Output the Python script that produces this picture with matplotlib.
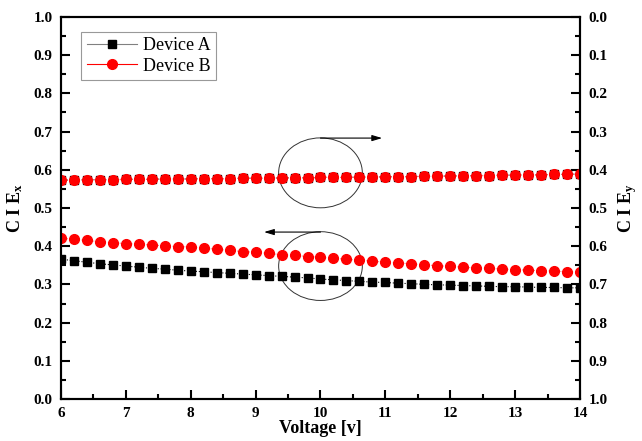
import numpy as np
import matplotlib.pyplot as plt
from matplotlib.patches import Ellipse
from matplotlib.lines import Line2D
from matplotlib.ticker import MultipleLocator

# ── Data ──────────────────────────────────────────────────────────────
voltage = np.round(np.arange(6.0, 14.01, 0.2), 1)

ciex_a = [0.366, 0.362, 0.358, 0.354, 0.351, 0.348, 0.345, 0.342, 0.340, 0.337,
          0.335, 0.333, 0.331, 0.329, 0.327, 0.325, 0.323, 0.321, 0.319, 0.317,
          0.314, 0.312, 0.310, 0.308, 0.306, 0.305, 0.303, 0.302, 0.300, 0.299,
          0.298, 0.297, 0.296, 0.295, 0.294, 0.294, 0.293, 0.292, 0.292, 0.291,
          0.291]
ciex_b = [0.421, 0.418, 0.415, 0.412, 0.409, 0.407, 0.405, 0.403, 0.401, 0.399,
          0.398, 0.395, 0.392, 0.389, 0.386, 0.384, 0.381, 0.378, 0.376, 0.373,
          0.371, 0.368, 0.366, 0.363, 0.361, 0.358, 0.356, 0.354, 0.351, 0.349,
          0.347, 0.345, 0.343, 0.342, 0.340, 0.339, 0.337, 0.336, 0.335, 0.333,
          0.332]
ciey_a = [0.427, 0.427, 0.426, 0.426, 0.426, 0.425, 0.425, 0.425, 0.424, 0.424,
          0.424, 0.423, 0.423, 0.423, 0.422, 0.422, 0.422, 0.421, 0.421, 0.421,
          0.420, 0.420, 0.420, 0.419, 0.419, 0.418, 0.418, 0.418, 0.417, 0.417,
          0.416, 0.416, 0.415, 0.415, 0.414, 0.414, 0.413, 0.413, 0.412, 0.412,
          0.411]
ciey_b = [0.427, 0.427, 0.426, 0.426, 0.426, 0.425, 0.425, 0.425, 0.424, 0.424,
          0.424, 0.423, 0.423, 0.423, 0.422, 0.422, 0.422, 0.421, 0.421, 0.421,
          0.420, 0.420, 0.420, 0.419, 0.419, 0.418, 0.418, 0.418, 0.417, 0.417,
          0.416, 0.416, 0.415, 0.415, 0.414, 0.414, 0.413, 0.413, 0.412, 0.412,
          0.411]

plt.rcParams["font.family"] = ["Liberation Serif", "DejaVu Serif"]
plt.rcParams["mathtext.fontset"] = "custom"
plt.rcParams["mathtext.rm"] = "Liberation Serif:bold"
plt.rcParams["mathtext.it"] = "Liberation Serif:bold"
plt.rcParams["mathtext.bf"] = "Liberation Serif:bold"

fig = plt.figure(figsize=(6.42, 4.41), dpi=100)
ax = fig.add_axes([0.095, 0.0952, 0.8084, 0.8663])
ax2 = ax.twinx()

style_a = dict(marker="s", markersize=5.3, color="black", markerfacecolor="black",
               markeredgecolor="black", linestyle=":", linewidth=0.8)
style_b = dict(marker="o", markersize=7.0, color="#ff8080", markerfacecolor="red",
               markeredgecolor="red", linestyle=":", linewidth=0.8)

ax.plot(voltage, ciex_a, **style_a)
ax.plot(voltage, ciex_b, **style_b)
ax2.plot(voltage, ciey_a, **style_a)
ax2.plot(voltage, ciey_b, **style_b)

# legend handles with solid lines like the original
handles = [
    Line2D([], [], marker="s", markersize=5.3, color="gray", markerfacecolor="black",
           markeredgecolor="black", linewidth=0.8),
    Line2D([], [], marker="o", markersize=7.0, color="red", markerfacecolor="red",
           markeredgecolor="red", linewidth=0.8),
]
leg = ax2.legend(handles, ["Device A", "Device B"], loc="upper left",
                 bbox_to_anchor=(0.022, 0.985), fontsize=13, frameon=True,
                 fancybox=False, edgecolor="gray", handlelength=2.8,
                 handletextpad=0.3, borderpad=0.3, labelspacing=0.2)
leg.get_frame().set_linewidth(0.8)

ax.set_xlim(6, 14)
ax.set_ylim(0, 1)
ax2.set_ylim(1, 0)

for a in (ax, ax2):
    a.xaxis.set_major_locator(MultipleLocator(1))
    a.xaxis.set_minor_locator(MultipleLocator(0.5))
    a.yaxis.set_major_locator(MultipleLocator(0.1))
    a.yaxis.set_minor_locator(MultipleLocator(0.05))
    a.tick_params(which="both", direction="in", width=1.5, labelsize=11, pad=6)
    a.tick_params(which="major", length=6.5)
    a.tick_params(which="minor", length=3.5)
    for s in a.spines.values():
        s.set_linewidth(1.5)
ax.tick_params(axis="both", which="both", top=False, right=False)
ax2.tick_params(axis="y", which="both", left=False, right=True)

ax.yaxis.set_major_formatter(plt.FormatStrFormatter("%.1f"))
ax2.yaxis.set_major_formatter(plt.FormatStrFormatter("%.1f"))
for lbl in ax.get_xticklabels() + ax.get_yticklabels() + ax2.get_yticklabels():
    lbl.set_fontweight("bold")

ax.set_xlabel("Voltage [v]", fontsize=13, fontweight="bold", labelpad=0)
ax.set_ylabel(r"C I E$_{\mathregular{x}}$", fontsize=13, fontweight="bold", labelpad=6)
ax2.set_ylabel(r"C I E$_{\mathregular{y}}$", fontsize=13, fontweight="bold", labelpad=6)

# circles and arrows pointing to the relevant axis
ax.add_patch(Ellipse((10, 0.592), 1.29, 0.183, fill=False, edgecolor="#333333", linewidth=0.7))
ax.add_patch(Ellipse((10, 0.348), 1.29, 0.18, fill=False, edgecolor="#333333", linewidth=0.7))
ax.annotate("", xy=(10.95, 0.683), xytext=(10.0, 0.683),
            arrowprops=dict(arrowstyle="-|>,head_length=0.6,head_width=0.18",
                            color="black", linewidth=0.8, shrinkA=0, shrinkB=0))
ax.annotate("", xy=(9.13, 0.437), xytext=(10.0, 0.437),
            arrowprops=dict(arrowstyle="-|>,head_length=0.6,head_width=0.18",
                            color="black", linewidth=0.8, shrinkA=0, shrinkB=0))

fig.savefig("out.png", dpi=100)
